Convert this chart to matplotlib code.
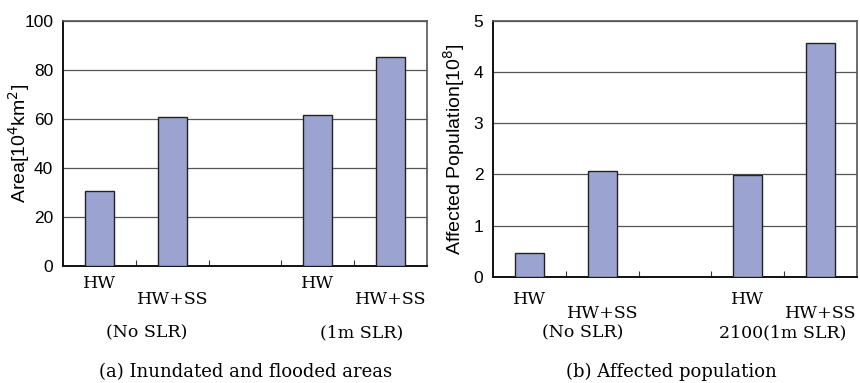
import matplotlib.pyplot as plt
import matplotlib.transforms as mtransforms

# data
slots = [0, 1, 2, 3, 4]  # slot 2 is the empty gap
bar_pos = [0, 1, 3, 4]
area = [30.8, 60.9, 61.5, 85.5]
population = [0.47, 2.07, 1.99, 4.56]
area_ticks = [0, 20, 40, 60, 80, 100]
pop_ticks = [0, 1, 2, 3, 4, 5]

bar_color = '#9ba4d0'
serif = 'DejaVu Serif'
sans = 'Liberation Sans'

fig = plt.figure(figsize=(8.6, 3.83), dpi=100)
ax1 = fig.add_axes([0.0733, 1 - 266 / 383, 0.4233, (266 - 21) / 383])
ax2 = fig.add_axes([0.5733, 1 - 276.7 / 383, 0.4233, (276.7 - 20.7) / 383])


def style(ax, vals, ticks, ylabel, ylx):
    ax.bar(bar_pos, vals, width=0.4, color=bar_color, edgecolor='#222222',
           linewidth=1.0, zorder=3)
    ax.set_xlim(-0.5, 4.5)
    ax.set_ylim(ticks[0], ticks[-1])
    ax.set_yticks(ticks)
    ax.set_yticklabels([str(t) for t in ticks], fontfamily=sans, fontsize=12.5)
    ax.tick_params(axis='y', length=0, pad=7)
    ax.set_xticks([0.5, 1.5, 2.5, 3.5])
    ax.set_xticklabels([])
    ax.tick_params(axis='x', direction='in', length=4, color='#333333')
    ax.yaxis.grid(True, color='#555555', linewidth=0.9, zorder=0)
    for s in ['top', 'right']:
        ax.spines[s].set_color('#555555')
        ax.spines[s].set_linewidth(1.2)
    for s in ['left', 'bottom']:
        ax.spines[s].set_color('#111111')
        ax.spines[s].set_linewidth(1.4)
    ax.set_ylabel(ylabel, fontfamily=sans, fontsize=14, va='center')
    ax.yaxis.set_label_coords(ylx, 0.5)


style(ax1, area, area_ticks, r'Area[10$^{4}$km$^{2}$]', -0.122)
style(ax2, population, pop_ticks, r'Affected Population[10$^{8}$]', -0.108)

fs = 12.5
t1 = mtransforms.blended_transform_factory(ax1.transData, fig.transFigure)
t2 = mtransforms.blended_transform_factory(ax2.transData, fig.transFigure)


def yf(px):
    return 1 - px / 383


def lab(ax, tr, x, ypx, s):
    ax.text(x, yf(ypx), s, transform=tr, ha='center', va='center',
            fontfamily=serif, fontsize=fs)


# panel (a) labels
lab(ax1, t1, 0, 283, 'HW')
lab(ax1, t1, 1, 299, 'HW+SS')
lab(ax1, t1, 3, 283, 'HW')
lab(ax1, t1, 4, 299, 'HW+SS')
lab(ax1, t1, 0.65, 333, '(No SLR)')
lab(ax1, t1, 3.6, 333, '(1m SLR)')
fig.text(0.285, yf(372), '(a) Inundated and flooded areas', ha='center', va='center',
         fontfamily=serif, fontsize=13)

# panel (b) labels
lab(ax2, t2, 0, 299, 'HW')
lab(ax2, t2, 1, 314, 'HW+SS')
lab(ax2, t2, 3, 299, 'HW')
lab(ax2, t2, 4, 314, 'HW+SS')
lab(ax2, t2, 0.73, 333, '(No SLR)')
lab(ax2, t2, 3.48, 333, '2100(1m SLR)')
fig.text(0.781, yf(372), '(b) Affected population', ha='center', va='center',
         fontfamily=serif, fontsize=13)

fig.savefig('out.png', dpi=100)
